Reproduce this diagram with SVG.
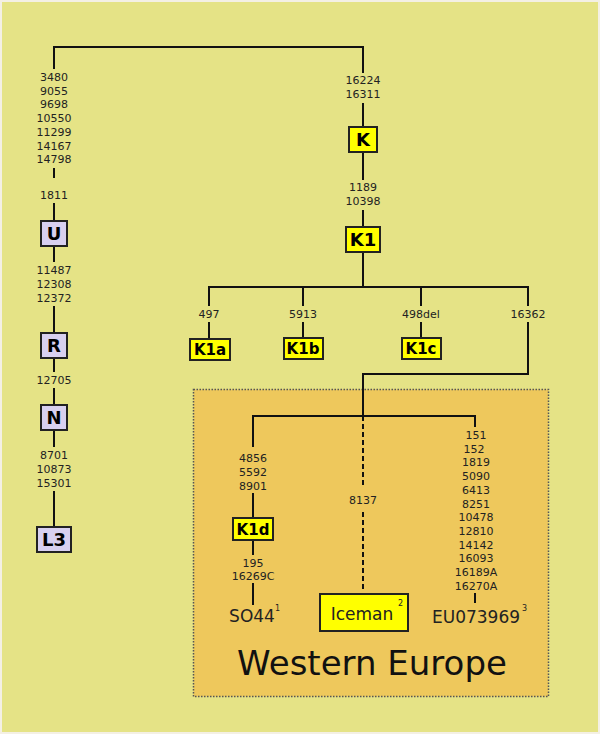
<svg xmlns="http://www.w3.org/2000/svg" width="600" height="734" viewBox="0 0 600 734">
<style>
.n{font-family:"DejaVu Sans",sans-serif;font-size:11px;fill:#222;text-anchor:middle}
.b{font-family:"DejaVu Sans",sans-serif;font-weight:bold;fill:#000;text-anchor:middle}
.l{fill:none;stroke:#111;stroke-width:2}
.d{fill:none;stroke:#111;stroke-width:2;stroke-dasharray:5,3}
.hu{fill:#d8d0f0;stroke:#222;stroke-width:2}
.hk{fill:#ffff00;stroke:#222;stroke-width:2}
.s{font-family:"DejaVu Sans",sans-serif;font-size:17px;fill:#222;text-anchor:middle}
.sup{font-family:"DejaVu Sans",sans-serif;font-size:8px;fill:#222}
</style>
<rect x="0" y="0" width="600" height="734" fill="#f4f0e4"/>
<rect x="2" y="2" width="596" height="730" fill="#e5e386"/>
<g id="region">
<rect x="193.5" y="389.5" width="355" height="307" fill="#eec85c" stroke="#555" stroke-width="1.5" stroke-dasharray="1.5,1.5"/>
<text x="372" y="675" font-family="DejaVu Sans, sans-serif" font-size="34" fill="#111" text-anchor="middle">Western Europe</text>
</g>
<g id="connectors">
<path class="l" d="M54,69V47H363V73"/>
<path class="l" d="M54,168V178M54,203V222M54,246V262M54,306V333M54,358V372M54,388V405M54,430V447M54,491V527"/>
<path class="l" d="M363,103V127M363,153V180M363,210V227M363,253V287"/>
<path class="l" d="M209,306V287H528V306M303,287V306M421,287V306"/>
<path class="l" d="M209,322V339M303,322V338M421,322V338"/>
<path class="l" d="M528,322V374H363V416M253,447V416H475V427"/>
<path class="l" d="M253,493V518M253,540V555M253,583V605M475,593V603"/>
<path class="d" d="M363,416V488M363,512V592"/>
</g>
<g id="n-left-muts">
<text class="n" x="54" y="81">3480</text><text class="n" x="54" y="95">9055</text><text class="n" x="54" y="108">9698</text><text class="n" x="54" y="122">10550</text><text class="n" x="54" y="136">11299</text><text class="n" x="54" y="150">14167</text><text class="n" x="54" y="163">14798</text>
<text class="n" x="54" y="199">1811</text>
<text class="n" x="54" y="274">11487</text><text class="n" x="54" y="288">12308</text><text class="n" x="54" y="302">12372</text>
<text class="n" x="54" y="384">12705</text>
<text class="n" x="54" y="459">8701</text><text class="n" x="54" y="473">10873</text><text class="n" x="54" y="487">15301</text>
</g>
<g id="U"><rect class="hu" x="41" y="221" width="26" height="25"/><text class="b" x="54" y="240" font-size="18">U</text></g>
<g id="R"><rect class="hu" x="41" y="333" width="26" height="25"/><text class="b" x="54" y="352" font-size="18">R</text></g>
<g id="N"><rect class="hu" x="41" y="405" width="26" height="25"/><text class="b" x="54" y="424" font-size="18">N</text></g>
<g id="L3"><rect class="hu" x="37" y="527" width="34" height="25"/><text class="b" x="54" y="546" font-size="18">L3</text></g>
<g id="right-muts">
<text class="n" x="363" y="84">16224</text><text class="n" x="363" y="98">16311</text>
<text class="n" x="363" y="191">1189</text><text class="n" x="363" y="205">10398</text>
<text class="n" x="209" y="318">497</text><text class="n" x="303" y="318">5913</text><text class="n" x="421" y="318">498del</text><text class="n" x="528" y="318">16362</text>
</g>
<g id="K"><rect class="hk" x="349" y="127" width="28" height="25"/><text class="b" x="363" y="146" font-size="18">K</text></g>
<g id="K1"><rect class="hk" x="346" y="227" width="34" height="25"/><text class="b" x="363" y="246" font-size="18">K1</text></g>
<g id="K1a"><rect class="hk" x="190" y="339" width="40" height="21"/><text class="b" x="210" y="355" font-size="15">K1a</text></g>
<g id="K1b"><rect class="hk" x="284" y="338" width="39" height="21"/><text class="b" x="303" y="354" font-size="15">K1b</text></g>
<g id="K1c"><rect class="hk" x="402" y="338" width="39" height="21"/><text class="b" x="421" y="354" font-size="15">K1c</text></g>
<g id="K1d-muts">
<text class="n" x="253" y="462">4856</text><text class="n" x="253" y="476">5592</text><text class="n" x="253" y="490">8901</text>
<text class="n" x="253" y="567">195</text><text class="n" x="253" y="580">16269C</text>
<text class="n" x="363" y="504">8137</text>
<text class="n" x="476" y="439">151</text><text class="n" x="474" y="453">152</text><text class="n" x="476" y="466">1819</text><text class="n" x="476" y="480">5090</text><text class="n" x="476" y="494">6413</text><text class="n" x="476" y="508">8251</text><text class="n" x="476" y="521">10478</text><text class="n" x="476" y="535">12810</text><text class="n" x="476" y="549">14142</text><text class="n" x="476" y="562">16093</text><text class="n" x="476" y="576">16189A</text><text class="n" x="476" y="590">16270A</text>
</g>
<g id="K1d"><rect class="hk" x="233" y="518" width="40" height="22"/><text class="b" x="253" y="535" font-size="15">K1d</text></g>
<g id="SO44"><text class="s" x="252" y="622">SO44</text><text class="sup" x="275" y="611">1</text></g>
<g id="Iceman"><rect class="hk" x="320" y="594" width="88" height="37"/><text class="s" x="362" y="620" font-size="19">Iceman</text><text class="sup" x="398" y="606">2</text></g>
<g id="EU073969"><text class="s" x="476" y="623">EU073969</text><text class="sup" x="522" y="611">3</text></g>
</svg>
